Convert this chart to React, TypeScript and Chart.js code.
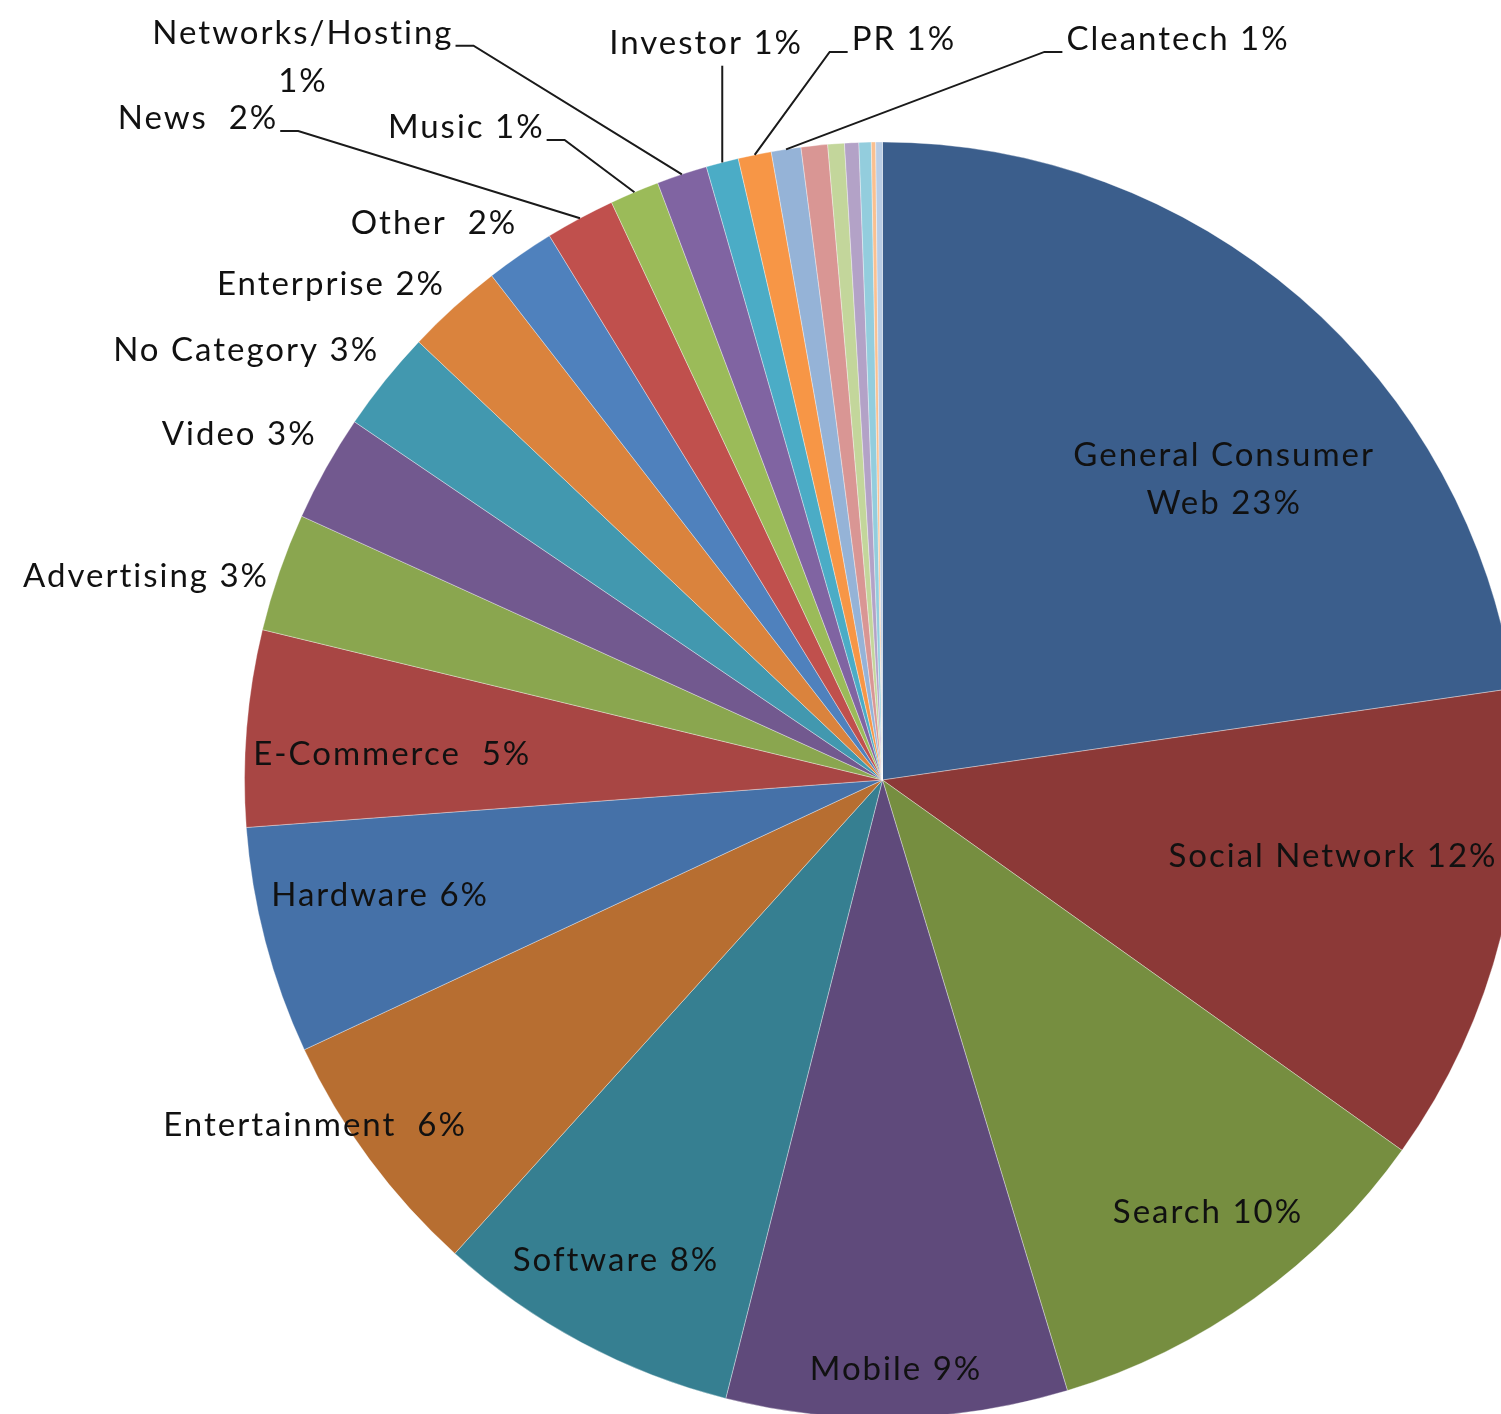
import React, { useEffect, useRef } from "react";
import { Chart, registerables } from "chart.js";

Chart.register(...registerables);

// ---- data (clockwise from 12 o'clock) ----
const categories: string[] = [
  "General Consumer Web",
  "Social Network",
  "Search",
  "Mobile",
  "Software",
  "Entertainment",
  "Hardware",
  "E-Commerce",
  "Advertising",
  "Video",
  "No Category",
  "Enterprise",
  "Other",
  "News",
  "Music",
  "Networks/Hosting",
  "Investor",
  "PR",
  "Cleantech",
  "",
  "",
  "",
  "",
  "",
  "",
];

const shares: number[] = [
  22.7, 12.15, 10.46, 8.63, 7.74, 6.36, 5.76, 4.97, 3.0, 2.7, 2.56, 2.46, 1.75,
  1.76, 1.25, 1.28, 0.82, 0.84, 0.75, 0.67, 0.42, 0.36, 0.31, 0.11, 0.17,
];

// label templates ({p} = rounded percentage), "" = no label
const labelTemplates: string[] = [
  "General Consumer\nWeb {p}",
  "Social Network {p}",
  "Search {p}",
  "Mobile {p}",
  "Software {p}",
  "Entertainment  {p}",
  "Hardware {p}",
  "E-Commerce  {p}",
  "Advertising {p}",
  "Video {p}",
  "No Category {p}",
  "Enterprise {p}",
  "Other  {p}",
  "News  {p}",
  "Music {p}",
  "Networks/Hosting\n{p}",
  "Investor {p}",
  "PR {p}",
  "Cleantech {p}",
  "",
  "",
  "",
  "",
  "",
  "",
];

// ---- styles ----
const sliceColors: string[] = [
  "#3B5E8C",
  "#8C3937",
  "#768E40",
  "#5F4A7B",
  "#367F91",
  "#B76E31",
  "#4571A8",
  "#A84644",
  "#8AA64F",
  "#72598F",
  "#4298AF",
  "#DA833D",
  "#4F81BD",
  "#C0504D",
  "#9BBB59",
  "#8064A2",
  "#4BACC6",
  "#F79646",
  "#95B3D7",
  "#D99694",
  "#C3D69B",
  "#B3A2C7",
  "#93CDDD",
  "#FAC090",
  "#B9CDE5",
];

// label centre relative to pie centre, in units of the radius; leader kind
type Leader = "" | "fromRight" | "fromLeft" | "fromBottom";
const labelPlacement: [number, number, Leader][] = [
  [0.534, -0.473, ""],
  [0.7045, 0.1176, ""],
  [0.5086, 0.6755, ""],
  [0.0196, 0.9216, ""],
  [-0.4193, 0.7508, ""],
  [-0.891, 0.539, ""],
  [-0.789, 0.1787, ""],
  [-0.77, -0.0423, ""],
  [-1.156, -0.3213, ""],
  [-1.01, -0.544, ""],
  [-0.999, -0.6755, ""],
  [-0.866, -0.779, ""],
  [-0.7045, -0.8746, ""],
  [-1.0745, -1.039, "fromRight"],
  [-0.654, -1.025, "fromRight"],
  [-0.91, -1.135, "fromRight"],
  [-0.278, -1.157, "fromBottom"],
  [0.032, -1.163, "fromLeft"],
  [0.4616, -1.163, "fromLeft"],
];

const FONT_FAMILY = "Lato, 'Open Sans', sans-serif";
const FONT_SIZE = 33;
const LETTER_SPACING = 2;
const LINE_HEIGHT = 48;
const PIE_RADIUS = 638;

const labelPlugin = {
  id: "sliceLabels",
  afterDraw(chart: any) {
    const ctx: CanvasRenderingContext2D = chart.ctx;
    const meta = chart.getDatasetMeta(0);
    const total = shares.reduce((a, b) => a + b, 0);
    ctx.save();
    ctx.font = `${FONT_SIZE}px ${FONT_FAMILY}`;
    (ctx as any).letterSpacing = `${LETTER_SPACING}px`;
    ctx.fillStyle = "#111111";
    ctx.strokeStyle = "#1a1a1a";
    ctx.lineWidth = 2;
    ctx.textAlign = "center";
    ctx.textBaseline = "alphabetic";
    const capH = FONT_SIZE * 0.72;
    meta.data.forEach((arc: any, i: number) => {
      const tpl = labelTemplates[i];
      const place = labelPlacement[i];
      if (!tpl || !place) return;
      const pct = Math.round((shares[i] / total) * 100) + "%";
      const lines = tpl.replace("{p}", pct).split("\n");
      const { x, y, startAngle, endAngle, outerRadius } = arc.getProps(
        ["x", "y", "startAngle", "endAngle", "outerRadius"],
        true
      );
      const [rx, ry, kind] = place;
      const cx = x + rx * outerRadius;
      const cy = y + ry * outerRadius;
      const firstBase = cy - ((lines.length - 1) * LINE_HEIGHT) / 2 + capH / 2;
      lines.forEach((ln, k) => {
        ctx.fillText(ln, cx + LETTER_SPACING / 2, firstBase + k * LINE_HEIGHT);
      });
      if (!kind) return;
      const w0 = ctx.measureText(lines[0]).width - LETTER_SPACING;
      const mid = (startAngle + endAngle) / 2;
      const tx = x + Math.cos(mid) * outerRadius;
      const ty = y + Math.sin(mid) * outerRadius;
      ctx.beginPath();
      if (kind === "fromRight") {
        const sx = cx + w0 / 2 + 4;
        const ly = firstBase + 2;
        ctx.moveTo(sx, ly);
        ctx.lineTo(sx + 18, ly);
        ctx.lineTo(tx, ty);
      } else if (kind === "fromLeft") {
        const sx = cx - w0 / 2 - 4;
        const ly = firstBase + 2;
        ctx.moveTo(sx, ly);
        ctx.lineTo(sx - 18, ly);
        ctx.lineTo(tx, ty);
      } else {
        ctx.moveTo(tx, firstBase + 12);
        ctx.lineTo(tx, ty);
      }
      ctx.stroke();
    });
    ctx.restore();
  },
};

export default function App() {
  const ref = useRef<HTMLCanvasElement>(null);
  useEffect(() => {
    document.body.style.margin = "0";
    const canvas = ref.current!;
    const chart = new Chart(canvas, {
      type: "pie",
      data: {
        labels: categories,
        datasets: [
          {
            data: shares,
            backgroundColor: sliceColors,
            borderColor: "rgba(255,255,255,0.35)",
            borderWidth: 1,
          },
        ],
      },
      options: {
        responsive: false,
        animation: false,
        radius: PIE_RADIUS,
        layout: { padding: { left: 264, right: 0, top: 146, bottom: 0 } },
        plugins: {
          legend: { display: false },
          tooltip: { enabled: false },
        },
      } as any,
      plugins: [labelPlugin],
    });
    return () => chart.destroy();
  }, []);
  return (
    <div
      style={{
        position: "absolute",
        left: 0,
        top: 0,
        width: 1501,
        height: 1414,
        overflow: "hidden",
        background: "#ffffff",
      }}
    >
      <canvas ref={ref} width={1501} height={1414} style={{ display: "block" }} />
    </div>
  );
}
